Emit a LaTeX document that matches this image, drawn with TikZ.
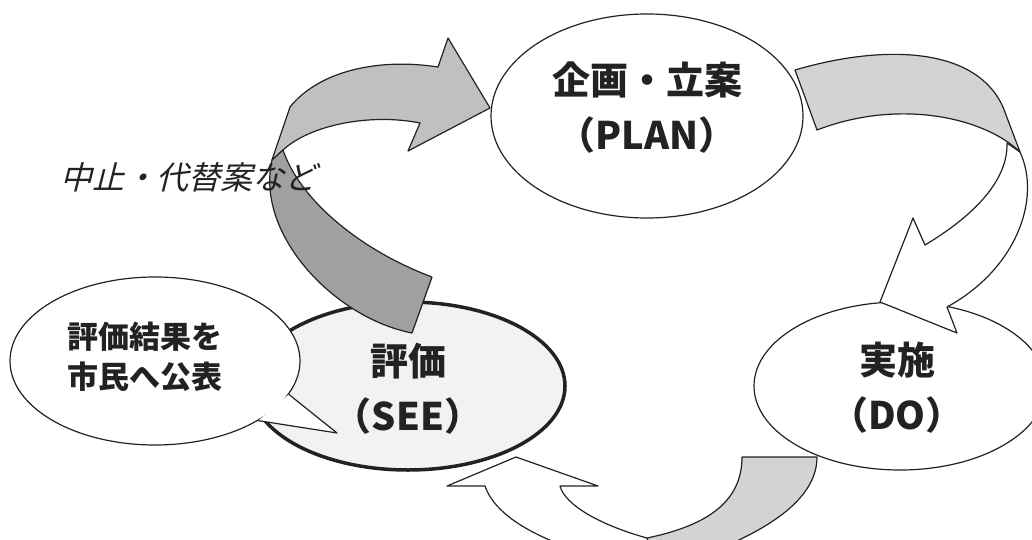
\documentclass[tikz,border=0pt]{standalone}
\usepackage{fontspec}
\usepackage{xcolor}
\usetikzlibrary{shapes.geometric}
\newfontfamily\jp{Noto Sans CJK JP}
\newfontfamily\jpit[FakeSlant=0.25]{Noto Sans CJK JP}
\definecolor{arrowlight}{HTML}{C0C0C0}
\definecolor{arrowdark}{HTML}{A0A0A0}
\definecolor{bandgray}{HTML}{D3D3D3}
\definecolor{seefill}{HTML}{F2F2F2}
\definecolor{ink}{HTML}{222222}

\begin{document}
\begin{tikzpicture}[x=1pt,y=-1pt,line join=round,
  stage/.style={ellipse,draw=ink,line width=1.2pt,inner sep=0pt},
  stagetext/.style={font=\jp\bfseries\fontsize{38}{55}\selectfont,align=center,text=ink},
  band/.style={draw=ink,line width=1.2pt}]
\useasboundingbox (0,0) rectangle (1032,540);
\clip (0,0) rectangle (1032,540);
\node[stage,minimum width=312pt,minimum height=204pt] (plan) at (647,116) {};
\node[stage,minimum width=292pt,minimum height=168pt] (do) at (900,386) {};
\node[stage,fill=seefill,line width=3.5pt,minimum width=314pt,minimum height=168pt] (see) at (408,386) {};
\node[stage,fill=white,minimum width=290pt,minimum height=168pt] (callout) at (155,361) {};
\fill[white] (callout.-14) -- (337,433) -- (callout.-30) -- cycle;
\draw[draw=ink,line width=1.2pt] (callout.-14) -- (337,433) -- (callout.-30);
\draw[band,fill=white] (1007,143) -- (1020,152) .. controls (1042,200) and (1015,270) .. (947,307) -- (957,333) -- (880,302) -- (913,218) -- (925,245) .. controls (975,215) and (1008,180) .. cycle;
\draw[band,fill=bandgray] (795,70) .. controls (880,45) and (975,45) .. (1003,107) -- (1020,152) .. controls (985,118) and (900,98) .. (817,130) -- cycle;
\draw[band,fill=bandgray] (742,457) -- (817,457) .. controls (817,510) and (740,545) .. (655,572) -- (647,538) .. controls (710,525) and (742,500) .. cycle;
\draw[band,fill=white] (647,538) .. controls (600,525) and (565,505) .. (560,486) -- (598,486) -- (516,457) -- (447,486) -- (485,486) .. controls (500,530) and (580,555) .. (655,572) -- cycle;
\draw[band,fill=arrowlight] (272,160) -- (290,107) .. controls (320,70) and (380,58) .. (438,67) -- (448,38) -- (490,108) -- (408,151) -- (420,123) .. controls (370,113) and (310,125) .. (283,150) -- cycle;
\draw[band,fill=arrowdark] (272,160) -- (283,150) .. controls (300,200) and (360,250) .. (432,277) -- (412,333) .. controls (335,318) and (255,235) .. cycle;
\node[stagetext] (plan label) at ([yshift=8pt]plan.center) {企画・立案\\（PLAN）};
\node[stagetext] (do label) at ([xshift=-3pt,yshift=-2pt]do.center) {実施\\（DO）};
\node[stagetext] (see label) at ([yshift=-3pt]see.center) {評価\\（SEE）};
\node[font=\jp\bfseries\fontsize{31}{40}\selectfont,align=center,text=ink] (callout label) at ([xshift=-10pt,yshift=4pt]callout.center) {評価結果を\\市民へ公表};
\node[font=\jpit\fontsize{32}{32}\selectfont,text=ink] (stop label) at (188,177) {中止・代替案など};
\end{tikzpicture}
\end{document}
